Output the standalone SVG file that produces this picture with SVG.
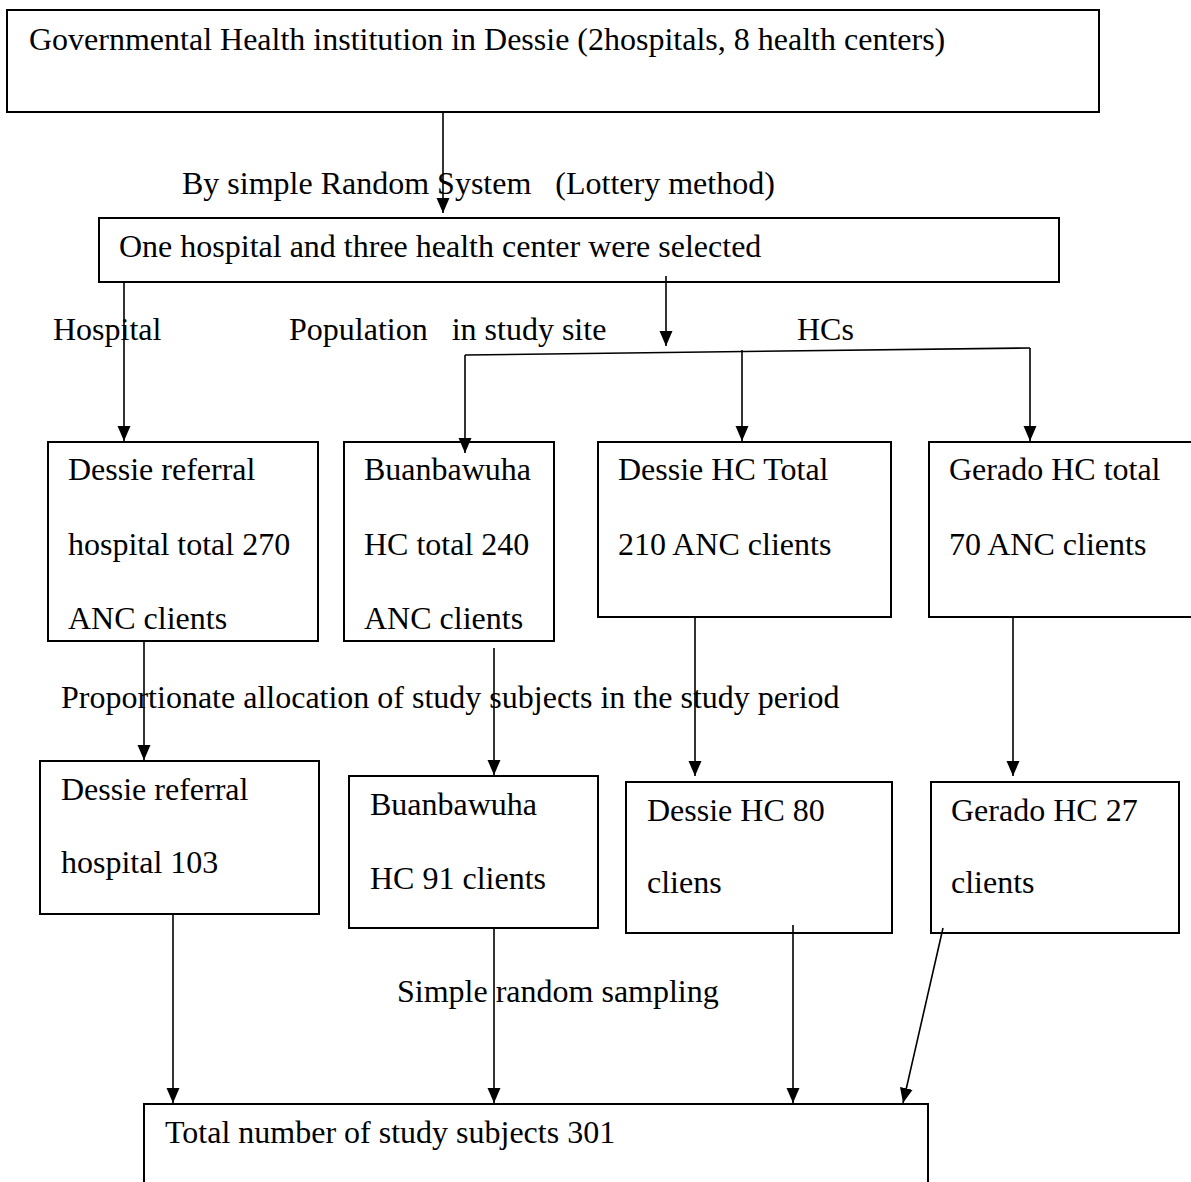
<svg xmlns="http://www.w3.org/2000/svg" width="1191" height="1182" viewBox="0 0 1191 1182">
<style>
text{font-family:"Liberation Serif","Times New Roman",serif;font-size:32px;fill:#000}
.box{fill:#fff;stroke:#000;stroke-width:2}
.ln{fill:none;stroke:#000;stroke-width:1.6}
</style>
<defs>
<marker id="ah" markerUnits="userSpaceOnUse" markerWidth="16" markerHeight="16" refX="15" refY="6.5" orient="auto">
<path d="M0,0 L15,6.5 L0,13 Z" fill="#000"/>
</marker>
</defs>
<rect width="1191" height="1182" fill="#fff"/>
<g id="n-top"><rect class="box" x="7" y="10" width="1092" height="102"/><text x="29" y="50">Governmental Health institution in Dessie (2hospitals, 8 health centers)</text></g>
<g id="n-selected"><rect class="box" x="99" y="218" width="960" height="64"/><text x="119" y="257">One hospital and three health center were selected</text></g>
<g id="n-hosp1"><rect class="box" x="48" y="442" width="270" height="199"/><text x="68" y="480">Dessie referral</text><text x="68" y="555">hospital total 270</text><text x="68" y="629">ANC clients</text></g>
<g id="n-buan1"><rect class="box" x="344" y="442" width="210" height="199"/><text x="364" y="480">Buanbawuha</text><text x="364" y="555">HC total 240</text><text x="364" y="629">ANC clients</text></g>
<g id="n-dessiehc1"><rect class="box" x="598" y="442" width="293" height="175"/><text x="618" y="480">Dessie HC Total</text><text x="618" y="555">210 ANC clients</text></g>
<g id="n-gerado1"><rect class="box" x="929" y="442" width="270" height="175"/><text x="949" y="480">Gerado HC total</text><text x="949" y="555">70 ANC clients</text></g>
<g id="n-hosp2"><rect class="box" x="40" y="761" width="279" height="153"/><text x="61" y="800">Dessie referral</text><text x="61" y="873">hospital 103</text></g>
<g id="n-buan2"><rect class="box" x="349" y="776" width="249" height="152"/><text x="370" y="815">Buanbawuha</text><text x="370" y="889">HC 91 clients</text></g>
<g id="n-dessiehc2"><rect class="box" x="626" y="782" width="266" height="151"/><text x="647" y="821">Dessie HC 80</text><text x="647" y="893">cliens</text></g>
<g id="n-gerado2"><rect class="box" x="931" y="782" width="248" height="151"/><text x="951" y="821">Gerado HC 27</text><text x="951" y="893">clients</text></g>
<g id="n-total"><rect class="box" x="144" y="1104" width="784" height="100"/><text x="165" y="1143">Total number of study subjects 301</text></g>
<g id="connectors">
<line class="ln" x1="443" y1="112" x2="443" y2="213" marker-end="url(#ah)"/>
<line class="ln" x1="124" y1="282" x2="124" y2="441" marker-end="url(#ah)"/>
<line class="ln" x1="666" y1="276" x2="666" y2="346" marker-end="url(#ah)"/>
<polyline class="ln" points="465,355 1030,348"/>
<line class="ln" x1="465" y1="355" x2="465" y2="453" marker-end="url(#ah)"/>
<line class="ln" x1="742" y1="350" x2="742" y2="441" marker-end="url(#ah)"/>
<line class="ln" x1="1030" y1="348" x2="1030" y2="441" marker-end="url(#ah)"/>
<line class="ln" x1="144" y1="641" x2="144" y2="760" marker-end="url(#ah)"/>
<line class="ln" x1="494" y1="648" x2="494" y2="775" marker-end="url(#ah)"/>
<line class="ln" x1="695" y1="617" x2="695" y2="776" marker-end="url(#ah)"/>
<line class="ln" x1="1013" y1="617" x2="1013" y2="776" marker-end="url(#ah)"/>
<line class="ln" x1="173" y1="914" x2="173" y2="1103" marker-end="url(#ah)"/>
<line class="ln" x1="494" y1="928" x2="494" y2="1103" marker-end="url(#ah)"/>
<line class="ln" x1="793" y1="925" x2="793" y2="1103" marker-end="url(#ah)"/>
<line class="ln" x1="943" y1="928" x2="903" y2="1103" marker-end="url(#ah)"/>
</g>
<g id="labels">
<text x="182" y="194" xml:space="preserve">By simple Random System   (Lottery method)</text>
<text x="53" y="340">Hospital</text>
<text x="289" y="340" xml:space="preserve">Population   in study site</text>
<text x="797" y="340">HCs</text>
<text x="61" y="708">Proportionate allocation of study subjects in the study period</text>
<text x="397" y="1002">Simple random sampling</text>
</g>
</svg>
